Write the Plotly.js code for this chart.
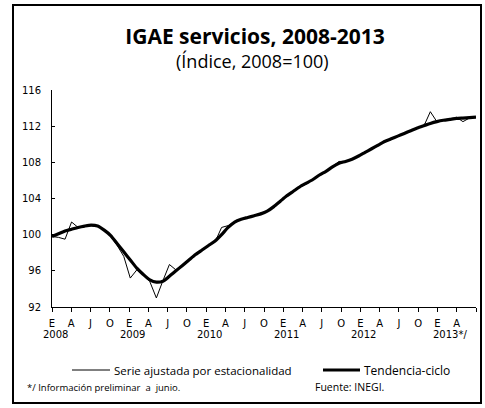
<!DOCTYPE html>
<html>
<head>
<meta charset="utf-8">
<script src="https://cdn.plot.ly/plotly-3.0.1.min.js"></script>
<style>
  html, body { margin: 0; padding: 0; background: #fff; }
  #chart { width: 485px; height: 408px; }
</style>
</head>
<body>
<div id="chart"></div>
<script>
// Month index, Jan 2008 (0) .. Jun 2013 (65)
const months = [
  0, 1, 2, 3, 4, 5, 6, 7, 8, 9, 10, 11,
  12, 13, 14, 15, 16, 17, 18, 19, 20, 21, 22, 23,
  24, 25, 26, 27, 28, 29, 30, 31, 32, 33, 34, 35,
  36, 37, 38, 39, 40, 41, 42, 43, 44, 45, 46, 47,
  48, 49, 50, 51, 52, 53, 54, 55, 56, 57, 58, 59,
  60, 61, 62, 63, 64, 65
];

const serieAjustada = [
  99.8, 99.7, 99.5, 101.4, 100.8, 100.9, 101.0, 100.9, 100.5, 99.8, 98.8, 97.6,
  95.2, 96.1, 95.6, 94.8, 93.0, 94.9, 96.7, 96.1, 96.6, 97.2, 97.8, 98.3,
  98.8, 99.2, 100.8, 101.0, 101.4, 101.7, 101.9, 102.1, 102.4, 102.6, 103.1, 103.7,
  104.4, 104.8, 105.3, 105.6, 106.1, 106.6, 107.0, 107.5, 108.1, 108.1, 108.4, 108.7,
  109.1, 109.6, 109.8, 110.4, 110.5, 110.9, 111.2, 111.5, 111.8, 112.0, 113.6, 112.5,
  112.7, 112.8, 113.0, 112.5, 112.9, 113.0
];

const tendenciaCiclo = [
  99.8, 100.1, 100.4, 100.6, 100.8, 100.95, 101.05, 100.95, 100.5, 99.9, 99.0, 98.1,
  97.2, 96.3, 95.6, 95.0, 94.75, 94.85, 95.4, 96.0, 96.6, 97.2, 97.8, 98.3,
  98.8, 99.3, 100.0, 100.8, 101.4, 101.7, 101.9, 102.1, 102.3, 102.6, 103.1, 103.7,
  104.3, 104.8, 105.3, 105.7, 106.1, 106.6, 107.0, 107.5, 107.9, 108.1, 108.35, 108.7,
  109.1, 109.5, 109.9, 110.3, 110.6, 110.9, 111.2, 111.5, 111.8, 112.05, 112.3, 112.5,
  112.65, 112.75, 112.85, 112.9, 112.95, 113.0
];

const quarterLabels = [
  "E", "A", "J", "O", "E", "A", "J", "O", "E", "A", "J",
  "O", "E", "A", "J", "O", "E", "A", "J", "O", "E", "A", ""
];
const yearLabels = ["2008", "2009", "2010", "2011", "2012", "2013*/"];
const yTicks = [92, 96, 100, 104, 108, 112, 116];

const W = 485, H = 408;
const M = { l: 52, r: 9, t: 90, b: 101 };
const plotW = W - M.l - M.r, plotH = H - M.t - M.b;
// pixel -> paper coordinates (for frame, legend and notes)
const px = (x) => (x - M.l) / plotW;
const py = (y) => (H - M.b - y) / plotH;

const xMax = months[months.length - 1];
const tickPos = quarterLabels.map((_, k) => k * xMax / (quarterLabels.length - 1));

const font = "Open Sans, sans-serif";
const tickFont = { family: "DejaVu Sans, sans-serif", size: 10, color: "#000" };

const traces = [
  {
    x: months, y: serieAjustada, type: "scatter", mode: "lines",
    name: "Serie ajustada por estacionalidad",
    line: { color: "#000", width: 1 }, hoverinfo: "y"
  },
  {
    x: months, y: tendenciaCiclo, type: "scatter", mode: "lines",
    name: "Tendencia-ciclo",
    line: { color: "#000", width: 3.2, shape: "spline", smoothing: 0.6 }, hoverinfo: "y"
  }
];

function note(text, x, y, size, anchor) {
  return {
    text: text, xref: "paper", yref: "paper",
    x: px(x), y: py(y), xanchor: anchor || "left", yanchor: "middle",
    showarrow: false, font: { family: font, size: size, color: "#000" }
  };
}

const annotations = [
  note("(Índice, 2008=100)", 252, 61, 18, "center"),
  note("Serie ajustada por estacionalidad", 112, 370, 11.5),
  note("Tendencia-ciclo", 362, 370, 12),
  note("*/ Información preliminar  a  junio.", 25, 387, 9.5),
  note("Fuente: INEGI.", 313, 387, 10.5)
];

yearLabels.forEach((lbl, i) => {
  const last = i === yearLabels.length - 1;
  annotations.push({
    text: lbl, xref: "x", yref: "paper",
    x: tickPos[i * 4], y: py(334),
    xanchor: last ? "left" : "center", yanchor: "middle",
    xshift: last ? -6 : 3,
    showarrow: false, font: tickFont
  });
});

const shapes = [
  // outer frame
  {
    type: "rect", xref: "paper", yref: "paper",
    x0: px(13), x1: px(481), y0: py(5), y1: py(403),
    line: { color: "#000", width: 2 }
  },
  // legend samples
  {
    type: "line", xref: "paper", yref: "paper",
    x0: px(72), x1: px(110), y0: py(370), y1: py(370),
    line: { color: "#000", width: 1 }
  },
  {
    type: "line", xref: "paper", yref: "paper",
    x0: px(323), x1: px(360), y0: py(370), y1: py(370),
    line: { color: "#000", width: 3 }
  }
];

const layout = {
  width: W, height: H,
  margin: M,
  paper_bgcolor: "#fff",
  plot_bgcolor: "#fff",
  showlegend: false,
  font: { family: font, color: "#000" },
  title: {
    text: "<b>IGAE servicios, 2008-2013</b>",
    font: { family: font, size: 21, color: "#000" },
    xref: "container", x: 255 / W, xanchor: "center",
    yref: "container", y: 1 - 37 / H, yanchor: "middle"
  },
  xaxis: {
    range: [0, xMax],
    tickmode: "array", tickvals: tickPos, ticktext: quarterLabels,
    ticks: "outside", ticklen: 4, tickcolor: "#000", tickwidth: 1,
    ticklabelstandoff: 3,
    showline: true, linecolor: "#000", linewidth: 1,
    showgrid: false, zeroline: false, tickfont: tickFont
  },
  xaxis2: {
    range: [0, xMax], overlaying: "x", anchor: "y",
    tickmode: "array", tickvals: tickPos,
    ticks: "inside", ticklen: 4, tickcolor: "#000", tickwidth: 1,
    showticklabels: false, showline: false, showgrid: false, zeroline: false
  },
  yaxis: {
    range: [92, 116],
    tickmode: "array", tickvals: yTicks,
    ticks: "inside", ticklen: 3, tickcolor: "#000",
    ticklabelstandoff: 8,
    showline: true, linecolor: "#000", linewidth: 1,
    showgrid: false, zeroline: false, tickfont: tickFont
  },
  annotations: annotations,
  shapes: shapes
};

Plotly.newPlot("chart", traces, layout, { displayModeBar: false, staticPlot: true });
</script>
</body>
</html>
